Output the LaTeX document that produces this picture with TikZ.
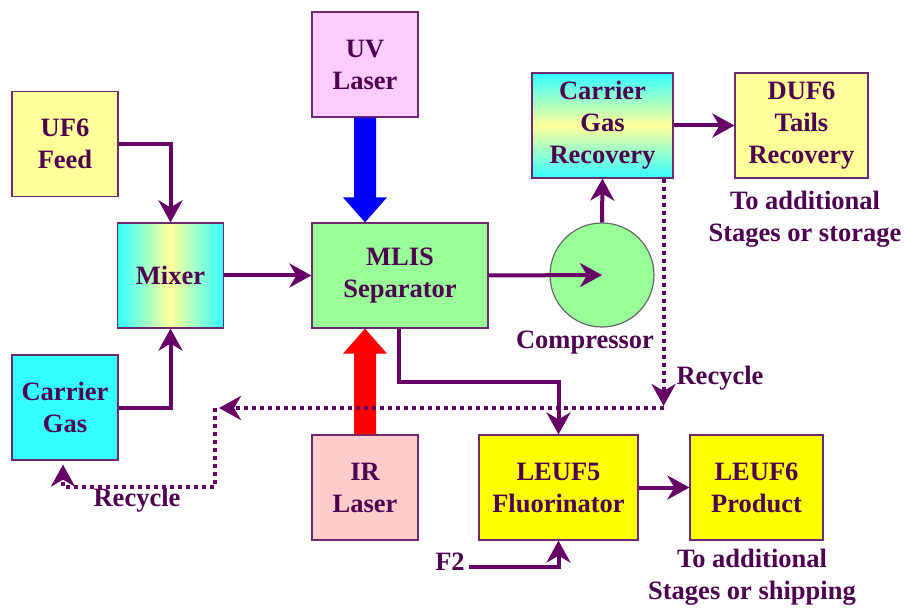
\documentclass[tikz,border=0pt]{standalone}
\usepackage{fontspec}
\setmainfont{Liberation Serif}
\usetikzlibrary{arrows.meta,calc}
\definecolor{txt}{HTML}{4D0050}
\definecolor{flowc}{HTML}{660066}
\definecolor{bord}{HTML}{6E2A6E}
\definecolor{lyel}{HTML}{FFFF99}
\definecolor{pyel}{HTML}{FFFF00}
\definecolor{lpink}{HTML}{FFCCFF}
\definecolor{rpink}{HTML}{FFCCCC}
\definecolor{lgreen}{HTML}{99FF99}
\definecolor{cyanb}{HTML}{33FFFF}
\tikzset{
  box/.style={draw=bord, line width=1.2pt, minimum width=106pt, minimum height=105pt,
    align=center, inner sep=0pt, text=txt, font=\fontsize{26.5}{32}\selectfont\bfseries},
  lbl/.style={align=center, inner sep=0pt, text=txt, font=\fontsize{26.5}{32}\selectfont\bfseries},
  flow/.style={draw=flowc, line width=4pt, -{Stealth[length=22pt,width=24pt,inset=7pt]}},
  recy/.style={draw=flowc, line width=4pt, dash pattern=on 4pt off 4pt, -{Stealth[length=22pt,width=24pt,inset=7pt]}}
}
\begin{document}
\begin{tikzpicture}[x=1pt,y=-1pt]
\useasboundingbox (0,0) rectangle (904,609);
\fill[white] (0,0) rectangle (904,609);
% boxes
\node[box, fill=lyel] (uf6) at (65,144) {UF6\\Feed};
\node[box, left color=cyanb, right color=cyanb, middle color=lyel] (mixer) at (170.5,275.5) {Mixer};
\node[box, fill=cyanb] (cg) at (65,407.5) {Carrier\\Gas};
\node[box, fill=lpink] (uv) at (365,64.5) {UV\\Laser};
\node[box, fill=lgreen, minimum width=176pt] (mlis) at (400,275.5) {MLIS\\Separator};
\node[box, fill=rpink] (ir) at (365,487.5) {IR\\Laser};
\node[draw=black!60, line width=1.2pt, fill=lgreen, circle, minimum size=104pt, inner sep=0pt] (comp) at (602,275) {};
\node[box, top color=cyanb, bottom color=cyanb, middle color=lyel, minimum width=141pt] (cgr) at (602.5,125.5) {Carrier\\Gas\\Recovery};
\node[box, fill=lyel, minimum width=133pt] (duf6) at (801.5,125.5) {DUF6\\Tails\\Recovery};
\node[box, fill=pyel, minimum width=159pt] (leuf5) at (558.5,487.5) {LEUF5\\Fluorinator};
\node[box, fill=pyel, minimum width=133pt] (leuf6) at (756.5,487.5) {LEUF6\\Product};
% labels
\node[lbl] (complbl) at (585,343) {Compressor};
\node[lbl] (rec1) at (720,378) {Recycle};
\node[lbl] (rec2) at (137,500) {Recycle};
\node[lbl] (stor) at (805,219) {To additional\\Stages or storage};
\node[lbl] (ship) at (752,577) {To additional\\Stages or shipping};
\node[lbl] (f2) at (450,562) {F2};
% laser arrows
\fill[blue] ($(uv.south)+(-11,0)$) -- ($(uv.south)+(11,0)$) -- ($(mlis.north -| uv.south)+(11,-25)$) -- ($(mlis.north -| uv.south)+(22,-25)$) -- (mlis.north -| uv.south) -- ($(mlis.north -| uv.south)+(-22,-25)$) -- ($(mlis.north -| uv.south)+(-11,-25)$) -- cycle;
\fill[red] ($(ir.north)+(-11,0)$) -- ($(ir.north)+(11,0)$) -- ($(mlis.south -| ir.north)+(11,25)$) -- ($(mlis.south -| ir.north)+(22,25)$) -- (mlis.south -| ir.north) -- ($(mlis.south -| ir.north)+(-22,25)$) -- ($(mlis.south -| ir.north)+(-11,25)$) -- cycle;
% flows
\draw[flow] (uf6.east) -| (mixer.north);
\draw[flow] (cg.east) -| (mixer.south);
\draw[flow] (mixer.east) -- (mlis.west);
\draw[flow] (mlis.east) -- (comp.center);
\draw[flow] (comp.north) -- (cgr.south);
\draw[flow] (cgr.east) -- (duf6.west);
\draw[flow] ([xshift=-1pt]mlis.south) -- ([xshift=-1pt]mlis.south |- 0,382) -| (leuf5.north);
\draw[flow] (leuf5.east) -- (leuf6.west);
\draw[flow] ([xshift=4pt,yshift=-5pt]f2.east) -| (leuf5.south);
% recycle
\coordinate (r1) at ([xshift=-10pt]cgr.south east);
\coordinate (r2) at (r1 |- 0,408);
\coordinate (r3) at (219,408);
\coordinate (r4) at (215,408);
\coordinate (r5) at (cg.south -| 63,0);
\draw[recy] (r1) -- ([yshift=2pt]r2);
\draw[recy] (r2) -- (r3);
\draw[recy] (r4) -- (215,487) -- (63,487) -- ([yshift=-4pt]r5);
\end{tikzpicture}
\end{document}
